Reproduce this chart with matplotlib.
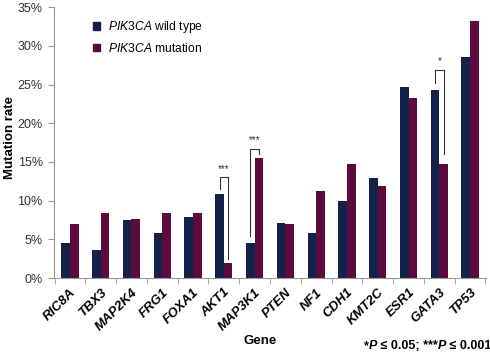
import numpy as np
import matplotlib
matplotlib.use('Agg')
import matplotlib.pyplot as plt
from matplotlib.patches import Patch
from matplotlib.text import Annotation

plt.rcParams['font.family'] = ['Liberation Sans', 'DejaVu Sans']
plt.rcParams['mathtext.fontset'] = 'custom'
plt.rcParams['mathtext.rm'] = 'Liberation Sans'
plt.rcParams['mathtext.it'] = 'Liberation Sans:italic'
plt.rcParams['mathtext.bf'] = 'Liberation Sans:bold'

GENES = ['RIC8A', 'TBX3', 'MAP2K4', 'FRG1', 'FOXA1', 'AKT1', 'MAP3K1',
         'PTEN', 'NF1', 'CDH1', 'KMT2C', 'ESR1', 'GATA3', 'TP53']
WILD_TYPE = [4.6, 3.7, 7.5, 5.8, 7.9, 10.9, 4.6, 7.1, 5.8, 10.0, 12.9, 24.7, 24.3, 28.5]
MUTATION = [7.0, 8.4, 7.7, 8.4, 8.4, 2.0, 15.5, 7.0, 11.2, 14.8, 11.9, 23.3, 14.8, 33.2]
YTICKS = [0, 5, 10, 15, 20, 25, 30, 35]

# significance brackets: gene index, left foot, top, right foot, stars
BRACKETS = [(5, 11.5, 13.0, 2.5, '***'),
            (6, 5.5, 16.7, 16.0, '***'),
            (12, 25.2, 26.9, 16.0, '*')]

NAVY = '#14214b'
MAROON = '#5b0b3c'

fig = plt.figure(figsize=(4.9, 3.53), dpi=100)
ax = fig.add_axes([0.11, 0.212, 0.882, 0.768])

x = np.arange(len(GENES))
w = 0.28
ax.bar(x - w / 2, WILD_TYPE, w, color=NAVY)
ax.bar(x + w / 2, MUTATION, w, color=MAROON)

for i, lo, top, ro, stars in BRACKETS:
    xl, xr = i - w / 2, i + w / 2
    ax.plot([xl, xl, xr, xr], [lo, top, top, ro], color='#333333', lw=0.8)
    ax.text(i, top + 0.5, stars, ha='center', va='bottom', fontsize=7,
            color='#333333')

ax.set_xlim(-0.52, len(GENES) - 0.48)
ax.set_ylim(0, 35)
ax.set_yticks(YTICKS)
ax.set_yticklabels(['%d%%' % t for t in YTICKS], fontsize=9, color='#333333')
ax.set_xticks(x)
ax.set_xticklabels(GENES, rotation=45, ha='right', rotation_mode='anchor',
                   fontsize=9.5, fontweight='bold', fontstyle='italic')
ax.tick_params(axis='x', length=0, pad=6)
ax.set_xticks(np.arange(len(GENES) + 1) - 0.5, minor=True)
ax.tick_params(axis='x', which='minor', length=4, color='#999999')
ax.tick_params(axis='y', length=4, color='#999999', pad=4)

for s in ['top', 'right']:
    ax.spines[s].set_visible(False)
ax.spines['left'].set_color('#999999')
ax.spines['bottom'].set_color('#999999')

ax.set_ylabel('Mutation rate', fontsize=9.5, fontweight='bold')
ax.yaxis.set_label_coords(-0.088, 0.52)
fig.text(0.531, 0.034, 'Gene', fontsize=9.5, fontweight='bold',
         ha='center', va='center')

# footnote, chained piece by piece so P stays bold italic
parts = [('P', 'italic'), (' \u2264 0.05; ***', 'normal'),
         ('P', 'italic'), (' \u2264 0.001', 'normal')]
prev = fig.text(0.742, 0.012, '*', fontsize=9, fontweight='bold')
for s, style in parts:
    prev = fig.add_artist(Annotation(
        s, xy=(1, 0), xycoords=prev, va='bottom', ha='left', fontsize=9,
        fontweight='bold', fontstyle=style))

handles = [Patch(color=NAVY), Patch(color=MAROON)]
ax.legend(handles, [r'$\it{PIK3CA}$ wild type', r'$\it{PIK3CA}$ mutation'],
          loc='upper left', bbox_to_anchor=(0.065, 0.995), frameon=False,
          fontsize=8.7, handlelength=0.55, handleheight=0.55,
          handletextpad=0.7, labelspacing=0.55)

fig.savefig('out.png', dpi=100)
